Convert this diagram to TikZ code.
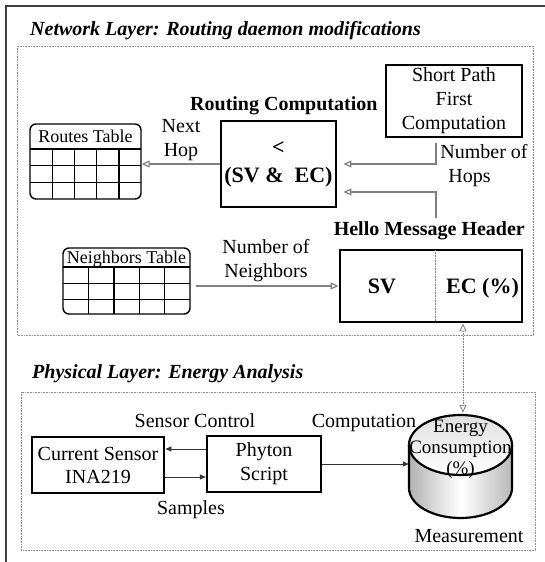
\documentclass[tikz,border=0pt]{standalone}
\usepackage{fontspec}
\setmainfont{Liberation Serif}
\usetikzlibrary{arrows.meta,calc}

\begin{document}
\begin{tikzpicture}[x=1pt,y=-1pt,
  txt/.style={font=\fontsize{20}{24}\selectfont, inner sep=0pt, align=center},
  small/.style={font=\fontsize{18}{20}\selectfont, inner sep=0pt},
  btxt/.style={font=\fontsize{20}{24}\selectfont\bfseries, inner sep=0pt},
  big/.style={font=\fontsize{22}{28}\selectfont\bfseries, inner sep=0pt, align=center},
  ttl/.style={font=\fontsize{20}{24}\selectfont\bfseries\itshape, inner sep=0pt, anchor=base west},
  layerbox/.style={draw=gray!90, line width=0.8pt, dash pattern=on 0.8pt off 0.8pt},
  thickbox/.style={draw, line width=2.8pt, inner sep=0pt},
  plainbox/.style={draw, line width=1.8pt, inner sep=0pt},
  tablebox/.style={draw, line width=1.4pt, rounded corners=6pt, inner sep=0pt},
  gridline/.style={line width=1.4pt},
  netlink/.style={draw=gray, line width=1.2pt, -{Triangle[open, length=8pt, width=7pt]}},
  physlink/.style={draw=black!80, line width=1pt, -{Triangle[length=6pt, width=5pt]}},
  duallink/.style={draw=gray, line width=0.9pt, dash pattern=on 0.8pt off 0.8pt,
    {Triangle[open, length=8pt, width=7pt]}-{Triangle[open, length=8pt, width=7pt]}},
]
\useasboundingbox (0,0) rectangle (545,562);

% outer frame (top and left edges)
\draw[line width=1.6pt, black!75] (6,562) -- (6,6) -- (545,6);

% ---------------- network layer ----------------
\node[ttl] (nettitle) at (30,35) {Network Layer: Routing daemon modifications};
\draw[layerbox] (17,46) rectangle (533,335);

% routes table
\node[tablebox, minimum width=111pt, minimum height=75pt] (routes) at (85.5,161.5) {};
\node[small, anchor=base] (routeshdr) at (85.5,142) {Routes Table};
\draw[gridline] (30,149) -- (141,149) (30,165.7) -- (141,165.7) (30,182.3) -- (141,182.3);
\foreach \x in {52.2,74.4,96.6,118.8} \draw[gridline] (\x,149) -- (\x,199);

% neighbors table
\node[tablebox, minimum width=127pt, minimum height=66pt] (neigh) at (126.5,281) {};
\node[small, anchor=base] (neighhdr) at (126.5,263) {Neighbors Table};
\draw[gridline] (63,267) -- (190,267) (63,283.3) -- (190,283.3) (63,299.7) -- (190,299.7);
\foreach \x in {88.4,113.8,139.2,164.6} \draw[gridline] (\x,267) -- (\x,314);

% routing computation
\node[btxt, anchor=base west] (routinglbl) at (190,110) {Routing Computation};
\node[thickbox, minimum width=115pt, minimum height=86pt, big] (routing) at (278.5,164)
  {<\\(SV \&~ EC)};

% shortest path first
\node[plainbox, minimum width=136pt, minimum height=72pt, txt] (spf) at (454,101)
  {Short Path\\First\\Computation};

% hello message header
\node[btxt, anchor=base east] (hellolbl) at (525,235) {Hello Message Header};
\node[thickbox, minimum width=182pt, minimum height=72pt] (hello) at (431,286) {};
\draw[gray, line width=0.8pt, dash pattern=on 0.8pt off 0.8pt] (435,250) -- (435,322);
\node[big, anchor=base] (sv) at (382,293) {SV};
\node[big, anchor=base] (ec) at (482.5,293) {EC (\%)};

% labels
\node[txt] (nexthop) at (181,140.5) {Next\\Hop};
\node[txt, align=left] (hops) at (484,166) {Number of\\\hspace{8pt}Hops};
\node[txt] (nbrs) at (266,260.5) {Number of\\Neighbors};

% connectors
\coordinate (hopsTop) at (436,143);
\coordinate (hdrTop) at (436,218);
\draw[netlink] (routing.west) -- (routing.west -| routes.east);
\draw[netlink, shorten >=6pt] (hopsTop) |- (routing.east);
\draw[netlink, shorten >=6pt] (hdrTop) |- ($(routing.east)+(0,28)$);
\draw[netlink, shorten <=5pt] (neigh.east |- hello.west) -- (hello.west);

% ---------------- physical layer ----------------
\node[ttl] (phystitle) at (32,378) {Physical Layer: Energy Analysis};
\draw[layerbox] (21,392) rectangle (535,550);

\node[thickbox, minimum width=132pt, minimum height=56pt, txt, font=\fontsize{20}{23}\selectfont]
  (sensor) at (98,465) {Current Sensor\\INA219};
\node[plainbox, line width=2.2pt, minimum width=114pt, minimum height=56pt, txt]
  (phy) at (264,464) {Phyton\\Script};

% measurement cylinder
\shade[left color=gray!60, right color=gray!55, middle color=white]
  (409,445) -- (409,488) arc[start angle=180, end angle=360, x radius=51.5pt, y radius=30pt]
  -- (512,445) arc[start angle=0, end angle=180, x radius=51.5pt, y radius=30pt] -- cycle;
\shade[top color=gray!25, bottom color=white] (460.5,445) ellipse[x radius=51.5pt, y radius=30pt];
\draw[line width=2.2pt] (409,445) -- (409,488)
  arc[start angle=180, end angle=360, x radius=51.5pt, y radius=30pt] -- (512,445);
\draw[line width=2.2pt] (460.5,445) ellipse[x radius=51.5pt, y radius=30pt];
\node[inner sep=0pt, minimum width=103pt, minimum height=103pt] (cyl) at (460.5,466.5) {};
\node[txt, font=\fontsize{19}{21}\selectfont] (ecval) at (460.5,449) {Energy\\Consumption\\(\%)};

% labels
\node[txt, anchor=base] (ctrl) at (195,427) {Sensor Control};
\node[txt, anchor=base] (samples) at (191,514) {Samples};
\node[txt, anchor=base] (comp) at (364,427) {Computation};
\node[txt, anchor=base] (meas) at (469,542) {Measurement};

% connectors
\draw[physlink] (phy.west |- 0,449) -- (sensor.east |- 0,449);
\draw[physlink] (sensor.east |- 0,477) -- (phy.west |- 0,477);
\draw[physlink] (phy.east) -- (phy.east -| cyl.west);
\draw[duallink] ($(hello.south)+(32,0)$) -- ($(cyl.north)+(2.5,-2)$);
\end{tikzpicture}
\end{document}
